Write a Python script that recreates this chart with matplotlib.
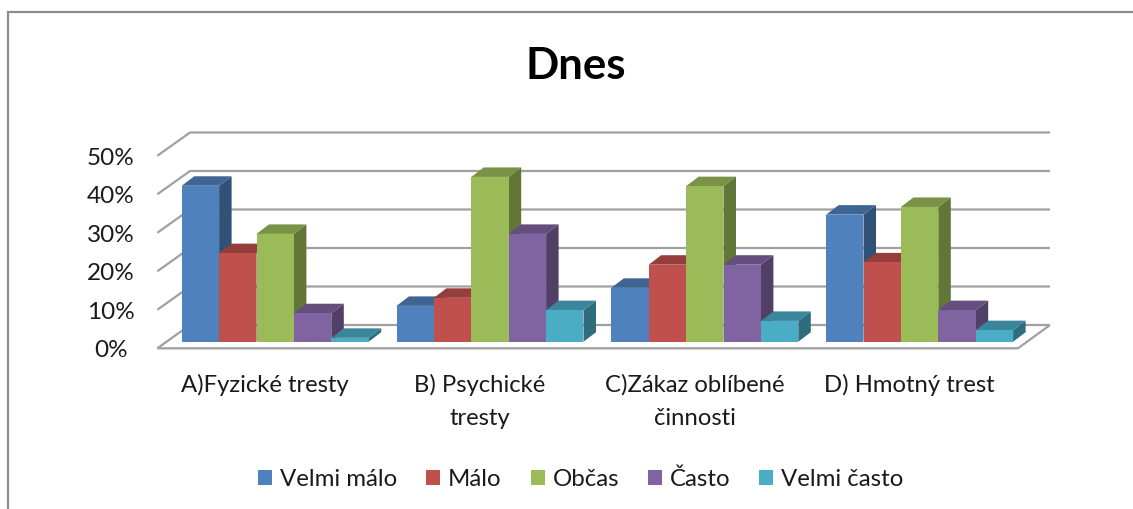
import matplotlib
matplotlib.use('Agg')
import matplotlib.pyplot as plt
from matplotlib.colors import to_rgb
from matplotlib.patches import Patch, Polygon

categories = ['A)Fyzické tresty', 'B) Psychické\ntresty', 'C)Zákaz oblíbené\nčinnosti', 'D) Hmotný trest']
series_names = ['Velmi málo', 'Málo', 'Občas', 'Často', 'Velmi často']
velmi_malo = [40.5, 9.3, 14.0, 33.0]
malo = [23.0, 11.4, 20.0, 20.6]
obcas = [28.0, 42.8, 40.4, 35.0]
casto = [7.4, 28.0, 20.0, 8.2]
velmi_casto = [1.0, 8.2, 5.4, 3.0]
y_ticks = [0, 10, 20, 30, 40, 50]
colors = ['#4f81bd', '#c0504d', '#9bbb59', '#8064a2', '#4bacc6']

plt.rcParams['font.family'] = ['Lato', 'DejaVu Sans']

W, H = 1133, 509
PX_GROUP = 214.8
PX_PCT = 3.85
BASE_X, BASE_Y = 181.7, 341.7   # pixel of first bar's lower left corner


def dx(px):
    return px / PX_GROUP


def dy(px):
    return px / PX_PCT


fig = plt.figure(figsize=(W / 100, H / 100), dpi=100)
ax = fig.add_axes([0, 0, 1, 1])
ax.set_xlim(-BASE_X / PX_GROUP, (W - BASE_X) / PX_GROUP)
ax.set_ylim(-(H - BASE_Y) / PX_PCT, BASE_Y / PX_PCT)
ax.axis('off')

# picture frame, open at right and bottom
ax.plot([dx(7.5 - BASE_X)] * 2 + [dx(W - BASE_X)],
        [dy(BASE_Y - H), dy(BASE_Y - 12.5), dy(BASE_Y - 12.5)],
        color='#8c8c8c', lw=1.6, solid_joinstyle='miter')

# walls, kept under the bars
wall_left, wall_right = dx(190 - BASE_X), dx(1050 - BASE_X)
front_left, front_right = dx(157.3 - BASE_X), dx(1018 - BASE_X)
wall_y0, front_y0 = dy(BASE_Y - 325), dy(BASE_Y - 348.3)
grid_kw = dict(color='#a0a0a0', lw=1.6, solid_capstyle='butt', zorder=0.5)
for t in y_ticks:
    ax.plot([front_left, wall_left, wall_right], [front_y0 + t, wall_y0 + t, wall_y0 + t], **grid_kw)
    ax.text(dx(111 - BASE_X), front_y0 + t + dy(-2.5), str(t) + '%', ha='center', va='center', fontsize=17.5, color='#1a1a1a')
ax.plot([front_left, front_right, wall_right], [front_y0, front_y0, wall_y0], **grid_kw)

# bars, drawn left to right so each one hides the side of the one before
bar_w = dx(37.4)
depth_x, depth_y = dx(12.5), dy(9.5)
all_series = [velmi_malo, malo, obcas, casto, velmi_casto]
for g in range(len(categories)):
    for s, values in enumerate(all_series):
        x0 = g + s * bar_w
        x1 = x0 + bar_w
        v = values[g]
        rgb = to_rgb(colors[s])
        side = tuple(c * 0.63 for c in rgb)
        top = tuple(c * 0.78 for c in rgb)
        ax.add_patch(Polygon([(x1, 0), (x1 + depth_x, depth_y), (x1 + depth_x, v + depth_y), (x1, v)], fc=side, ec='none'))
        ax.add_patch(Polygon([(x0, v), (x1, v), (x1 + depth_x, v + depth_y), (x0 + depth_x, v + depth_y)], fc=top, ec='none'))
        ax.bar(x0, v, width=bar_w, align='edge', color=colors[s])

# category labels
for g, name in enumerate(categories):
    ax.text(g + dx(83.5), dy(BASE_Y - 374), name, ha='center', va='top', fontsize=17.2,
            color='#1a1a1a', linespacing=1.72)

ax.text(dx(576 - BASE_X), dy(BASE_Y - 66), 'Dnes', ha='center', va='center', fontsize=31.5,
        fontweight='bold', color='black')

handles = [Patch(fc=c, ec='none', label=n) for c, n in zip(colors, series_names)]
ax.legend(handles=handles, ncol=5, frameon=False, loc='center',
          bbox_to_anchor=(581 / W, 1 - 479 / H), bbox_transform=fig.transFigure,
          fontsize=17.3, handlelength=0.58, handleheight=0.58, handletextpad=0.33,
          columnspacing=1.2, labelcolor='#1a1a1a')

fig.savefig('out.png', dpi=100)
